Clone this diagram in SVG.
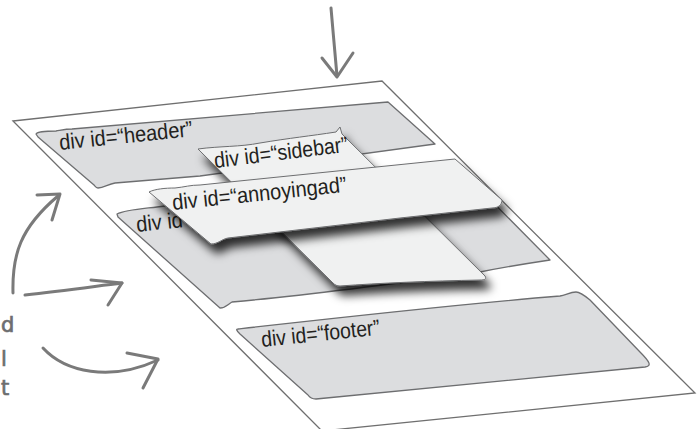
<svg xmlns="http://www.w3.org/2000/svg" width="697" height="429" viewBox="0 0 697 429">
<style>
.page{fill:#ffffff;stroke:#6f6f6f;stroke-width:1.3}
.panel{fill:#dcdddf;stroke:#6d6e70;stroke-width:1.3;stroke-linejoin:round}
.card{fill:#f0f1f1;stroke:#6d6e70;stroke-width:1;stroke-linejoin:round}
.lbl{font-family:"Liberation Sans",Arial,sans-serif;font-size:20px;fill:#231f20}
.hand{font-family:"DejaVu Sans","Liberation Sans",sans-serif;font-size:21px;fill:#6d6e70;stroke:#6d6e70;stroke-width:0.7}
.arrow{fill:none;stroke:#7a7a7a;stroke-width:3;stroke-linecap:round;stroke-linejoin:round}
</style>
<defs>
<filter id="shadow" x="-20%" y="-30%" width="150%" height="180%">
<feDropShadow dx="5" dy="9" stdDeviation="5" flood-color="#000" flood-opacity="0.8"/>
</filter>
</defs>
<rect width="697" height="429" fill="#ffffff"/>
<g id="page">
<path class="page" d="M13 121 L382 81 L695 393 L322 431 Z"/>
</g>
<g id="header">
<path class="panel" d="M36 134 C38 131 48 131 56 131 C62 130 66 129 72 129 L388 102 L435 144 C380 152 300 163 200 176 L115 183 C108 184 104 188 98 188 C96 188 95 186 94 185 L38 137 Z"/>
<text class="lbl" transform="translate(60 150) rotate(-6) scale(1 1.1)">div id=“header”</text>
</g>
<g id="content">
<path class="panel" d="M117 214 C125 210 140 209 157 207 L460 169 L550 260 C530 263 500 268 480 272 C400 283 300 296 232 302 C228 304 226 308 220 308 L118 217 Z"/>
<text class="lbl" transform="translate(137 232) rotate(-6) scale(1 1.1)">div id</text>
</g>
<g id="footer">
<path class="panel" d="M238 329 C300 322 450 305 560 296 C566 295 570 292 576 292 C580 292 584 295 590 300 L640 352 C650 362 652 366 645 367 L316 399 C312 399 310 398 308 395 L240 334 C236 330 236 329 238 329 Z"/>
<text class="lbl" transform="translate(262 347) rotate(-6) scale(0.97 1.1)">div id=“footer”</text>
</g>
<g id="sidebar">
<path class="card" filter="url(#shadow)" d="M198 149 C220 146 240 147 260 143 C290 138 310 136 336 132 L340 127 L342 134 L485 276 C487 279 485 280 480 280 C430 281 380 283 340 286 C337 286 335 285 333 283 Z"/>
<text class="lbl" transform="translate(215 168) rotate(-7) scale(0.98 1.1)">div id=“sidebar”</text>
</g>
<g id="annoyingad">
<path class="card" filter="url(#shadow)" d="M149 192 C155 189 165 188 175 188 C185 187 190 185 200 185 L455 159 L502 200 C502 205 498 208 492 208 L400 218 L228 238 C222 239 218 244 211 244 Z"/>
<text class="lbl" transform="translate(173 210) rotate(-6) scale(1 1.1)">div id=“annoyingad”</text>
</g>
<g id="connectors">
<path class="arrow" d="M331 8 C333 30 335 55 337 76"/>
<path class="arrow" d="M322 58 L337 77 L353 53"/>
<path class="arrow" d="M13 293 C12 255 20 228 58 196"/>
<path class="arrow" d="M37 195 L60 194 L52 220"/>
<path class="arrow" d="M25 295 C60 291 90 287 122 283"/>
<path class="arrow" d="M91 280 L122 283 L108 305"/>
<path class="arrow" d="M43 348 C65 372 110 382 158 360"/>
<path class="arrow" d="M127 353 L158 359 L143 388"/>
</g>
<g id="notes">
<text class="hand" x="1" y="332">d</text>
<text class="hand" x="1" y="366">l</text>
<text class="hand" x="1" y="395">t</text>
</g>
</svg>
